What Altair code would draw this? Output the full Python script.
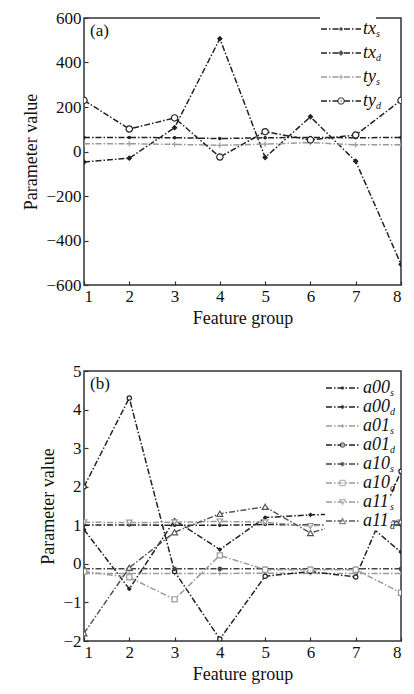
import math
import altair as alt
import pandas as pd

FONT = "Liberation Serif"
DARK = "#222222"
GRAY = "#9a9a9a"
MID = "#555555"
DASH = [6, 2, 1.5, 2]
PLUS = "M-1,0L1,0M0,-1L0,1"
STAR = "M-1,0L1,0M0,-1L0,1M-0.7,-0.7L0.7,0.7M-0.7,0.7L0.7,-0.7"

groups = [1, 2, 3, 4, 5, 6, 7, 8]

# ---- panel (a) ----
keys_a = ["tx_s", "tx_d", "ty_s", "ty_d"]
tx_s = [63, 63, 62, 58, 62, 63, 62, 63]
tx_d = [-47, -30, 107, 507, -27, 156, -44, -507]
ty_s = [35, 35, 32, 28, 33, 40, 30, 30]
ty_d = [230, 101, 151, -25, 89, 52, 74, 230]
yticks_a = [-600, -400, -200, 0, 200, 400, 600]

# ---- panel (b) ----
keys_b = ["a00_s", "a00_d", "a01_s", "a01_d", "a10_s", "a10_d", "a11_s", "a11_d"]
a00_s = [1.01, 1.01, 1.0, 1.0, 1.02, 1.01, 1.01, 1.01]
a00_d = [0.89, -0.65, 1.13, 0.37, 1.2, 1.27, 1.3, 0.3]
a01_s = [-0.25, -0.25, -0.25, -0.25, -0.24, -0.25, -0.25, -0.25]
a01_d = [2.0, 4.3, -0.2, -1.95, -0.32, -0.2, -0.34, 2.4]
a10_s = [-0.13, -0.13, -0.13, -0.13, -0.13, -0.13, -0.13, -0.13]
a10_d = [-0.2, -0.35, -0.92, 0.22, -0.15, -0.15, -0.15, -0.75]
a11_s = [1.08, 1.07, 1.08, 1.1, 1.08, 0.98, 1.08, 1.08]
a11_d = [-1.8, -0.1, 0.82, 1.3, 1.48, 0.8, 1.15, 1.1]
yticks_b = [-2, -1, 0, 1, 2, 3, 4, 5]


def long_df(keys, arrays):
    rows = []
    for k, arr in zip(keys, arrays):
        for g, v in zip(groups, arr):
            rows.append({"group": g, "value": v, "series": k,
                         "series_p": k + "_p", "series_q": k + "_q"})
    return pd.DataFrame(rows)


def panel(df, keys, colors, shapes, fills, sizes, ydomain, yticks, tag, height,
          line_len, row_h, leg_x, leg_y, lab_off, main_w, pad_nbsp):
    n = len(keys)
    keys_p = [k + "_p" for k in keys]
    keys_q = [k + "_q" for k in keys]
    x = alt.X("group:Q", scale=alt.Scale(domain=[1, 8], nice=False, zero=False),
              axis=alt.Axis(values=groups, format="d", title="Feature group", offset=-4,
                            domain=False, tickSize=4, labelPadding=3, titlePadding=5))
    y = alt.Y("value:Q", scale=alt.Scale(domain=ydomain, nice=False, zero=False),
              axis=alt.Axis(values=yticks, format="d", title="Parameter value", offset=-4,
                            domain=False, tickSize=4, labelPadding=3, titlePadding=5,
                            labelOverlap=False))
    common = dict(orient="none", title=None, padding=0, rowPadding=0, clipHeight=row_h,
                  direction="vertical")
    off1 = math.ceil(line_len + 1.5)
    nb = "\u00a0" * pad_nbsp
    L1 = alt.Legend(**common, legendX=leg_x, legendY=leg_y, symbolType="stroke",
                    symbolSize=line_len ** 2,
                    symbolStrokeWidth=1.5, labelFont=FONT, labelFontStyle="italic",
                    labelFontSize=18, labelColor="#111", labelOffset=lab_off,
                    labelExpr="slice(datum.label, 0, indexof(datum.label, '_')) + '" + nb + "'",
                    fillColor="white")
    off2 = max(math.ceil(math.sqrt(s) + 1.2) for s in sizes)
    L2 = alt.Legend(**common, legendX=leg_x + off1 / 2 - off2 / 2, legendY=leg_y,
                    symbolStrokeWidth=1.2, labelExpr="''", labelFontSize=1)
    L3 = alt.Legend(**common, legendX=leg_x, legendY=leg_y + 5, symbolSize=0,
                    symbolStrokeWidth=0,
                    labelFont=FONT, labelFontStyle="italic", labelFontSize=10,
                    labelColor="#111", labelBaseline="middle",
                    labelOffset=off1 + lab_off + main_w - 10,
                    labelExpr="slice(datum.label, indexof(datum.label, '_') + 1, indexof(datum.label, '_') + 2)")
    base = alt.Chart(df)
    lines = base.mark_line(strokeWidth=1.5, clip=True).encode(
        x=x, y=y,
        color=alt.Color("series:N", scale=alt.Scale(domain=keys, range=colors), legend=L1),
        strokeDash=alt.StrokeDash("series:N", scale=alt.Scale(domain=keys, range=[DASH] * n), legend=L1),
    )
    pts = base.mark_point(filled=True, strokeWidth=1.2, clip=True).encode(
        x=x, y=y,
        shape=alt.Shape("series_p:N", scale=alt.Scale(domain=keys_p, range=shapes), legend=L2),
        fill=alt.Fill("series_p:N", scale=alt.Scale(domain=keys_p, range=fills), legend=L2),
        stroke=alt.Stroke("series_p:N", scale=alt.Scale(domain=keys_p, range=colors), legend=L2),
        size=alt.Size("series_p:N", scale=alt.Scale(domain=keys_p, range=sizes), legend=L2),
        opacity=alt.Opacity("series_q:O", scale=alt.Scale(domain=keys_q, range=[1] * n), legend=L3),
    )
    tag_df = pd.DataFrame({"group": [groups[0]], "value": [ydomain[1]], "tag": [tag]})
    label = alt.Chart(tag_df).mark_text(
        align="left", baseline="top", dx=6, dy=5, font=FONT, fontSize=17, color="#111"
    ).encode(x=x, y=y, text="tag:N")
    return alt.layer(lines, pts, label).properties(width=317, height=height)


df_a = long_df(keys_a, [tx_s, tx_d, ty_s, ty_d])
df_b = long_df(keys_b, [a00_s, a00_d, a01_s, a01_d, a10_s, a10_d, a11_s, a11_d])

pa = panel(df_a, keys_a, [DARK, DARK, GRAY, DARK], ["circle", "diamond", PLUS, "circle"],
           [DARK, DARK, "transparent", "white"], [6, 40, 45, 45], [-600, 600], yticks_a, "(a)",
           267, 40, 24, 236, -1, 1, 13, 0)
pb = panel(df_b, keys_b, [DARK, DARK, GRAY, DARK, "#444444", GRAY, GRAY, MID],
           ["circle", "diamond", PLUS, "circle", STAR, "square", "triangle-down", "triangle-up"],
           [DARK, DARK, "transparent", "white", "transparent", "white", "white", "white"],
           [6, 35, 40, 45, 20, 40, 45, 45], [-2, 5], yticks_b, "(b)",
           270, 33, 19, 241, 7.5, 3, 27, 3)

ind = dict(color="independent", strokeDash="independent", shape="independent",
           fill="independent", stroke="independent", size="independent",
           opacity="independent")

chart = alt.vconcat(pa, pb, spacing=33).resolve_scale(**ind).resolve_legend(**ind).configure_view(
    stroke="#333333", strokeWidth=1.5
).configure_axis(
    labelFont=FONT, titleFont=FONT, labelFontSize=17, titleFontSize=18,
    titleFontWeight="normal", labelColor="#111", titleColor="#111",
    tickColor="#333333", tickWidth=1.2, grid=False,
).properties(
    padding={"left": 14, "top": 0, "right": 0, "bottom": 0}, background="white"
)

chart.save("out.html", embed_options={"renderer": "svg", "actions": False})
